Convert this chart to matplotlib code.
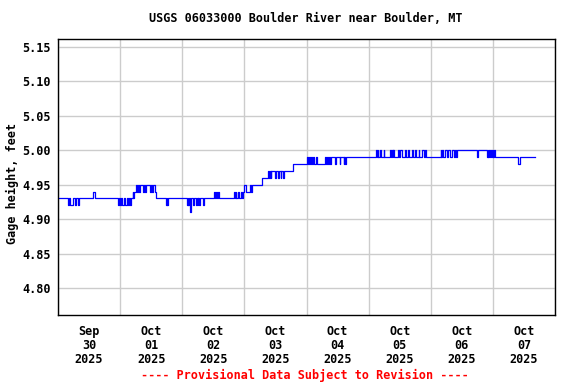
import matplotlib
matplotlib.use("Agg")
import matplotlib.pyplot as plt

# gage height readings, hours since Sep 30 2025 00:00 (step changes)
hours = [0.0, 3.9, 4.1, 4.6, 5.8, 6.6, 6.8, 7.7, 8.3, 13.7, 14.2,
         23.2, 23.6, 23.8, 24.3, 24.6, 25.5, 25.8, 26.7, 27.0, 27.4, 27.7,
         28.2, 28.8, 29.1, 29.4, 30.1, 30.4, 30.9, 31.2, 31.7, 32.9, 33.2,
         33.8, 34.1, 35.6, 35.9, 36.3, 36.6, 37.4, 38.0,
         41.6, 42.0, 42.2, 42.6, 49.7, 50.1, 50.3, 50.7, 50.9, 51.2, 52.2,
         52.5, 53.3, 53.6, 53.9, 54.2, 54.6, 54.9, 56.2, 56.5,
         60.4, 60.7, 60.9, 61.4, 61.8, 62.1, 68.1, 68.4, 68.6, 68.9, 69.6,
         69.9, 70.6, 71.0, 71.3, 72.0, 72.5, 74.2, 74.5, 75.0,
         78.7, 81.2, 81.5, 81.8, 82.1, 82.4, 83.9, 84.2, 85.0, 85.3, 86.0,
         86.3, 87.0, 87.3, 90.8, 96.1, 96.5, 96.9, 97.3, 97.7, 98.1, 98.5,
         98.8, 99.6, 99.9, 103.2, 103.5, 103.9, 104.2, 104.7, 105.0, 105.5,
         107.1, 107.4, 108.8, 109.1, 110.3, 110.6, 110.9, 111.2,
         122.9, 123.2, 123.5, 123.8, 124.5, 124.8, 125.8, 126.1, 128.3, 128.6,
         129.1, 129.4, 129.6, 129.9, 131.5, 131.8, 132.2, 132.9, 134.1, 134.4,
         135.4, 135.7, 136.7, 137.0, 138.0, 138.3, 139.3, 139.6, 140.6, 141.2,
         141.8, 142.1, 147.9, 148.1, 148.3, 148.9, 149.6, 150.2, 150.5, 151.5,
         152.2, 152.8, 153.4, 153.8, 154.1, 161.8, 162.1, 165.7, 166.0, 166.3,
         166.6, 167.0, 167.3, 167.6, 167.9, 168.2, 168.5, 168.9, 177.7, 178.3,
         184.4]
gage = [4.93, 4.92, 4.93, 4.92, 4.93, 4.92, 4.93, 4.92, 4.93, 4.94, 4.93,
        4.92, 4.93, 4.92, 4.93, 4.92, 4.93, 4.92, 4.93, 4.92, 4.93, 4.92,
        4.93, 4.94, 4.93, 4.94, 4.95, 4.94, 4.95, 4.94, 4.95, 4.94, 4.95,
        4.94, 4.95, 4.94, 4.95, 4.94, 4.95, 4.94, 4.93,
        4.92, 4.93, 4.92, 4.93, 4.92, 4.93, 4.92, 4.93, 4.91, 4.93, 4.92,
        4.93, 4.92, 4.93, 4.92, 4.93, 4.92, 4.93, 4.92, 4.93,
        4.94, 4.93, 4.94, 4.93, 4.94, 4.93, 4.94, 4.93, 4.94, 4.93, 4.94,
        4.93, 4.94, 4.93, 4.94, 4.95, 4.94, 4.95, 4.94, 4.95,
        4.96, 4.97, 4.96, 4.97, 4.96, 4.97, 4.96, 4.97, 4.96, 4.97, 4.96,
        4.97, 4.96, 4.97, 4.98, 4.99, 4.98, 4.99, 4.98, 4.99, 4.98, 4.99,
        4.98, 4.99, 4.98, 4.99, 4.98, 4.99, 4.98, 4.99, 4.98, 4.99,
        4.98, 4.99, 4.98, 4.99, 4.98, 4.99, 4.98, 4.99,
        5.00, 4.99, 5.00, 4.99, 5.00, 4.99, 5.00, 4.99, 5.00, 4.99,
        5.00, 4.99, 5.00, 4.99, 5.00, 4.99, 5.00, 4.99, 5.00, 4.99,
        5.00, 4.99, 5.00, 4.99, 5.00, 4.99, 5.00, 4.99, 5.00, 4.99,
        5.00, 4.99, 5.00, 4.99, 5.00, 4.99, 5.00, 4.99, 5.00, 4.99,
        5.00, 4.99, 5.00, 4.99, 5.00, 4.99, 5.00, 4.99, 5.00, 4.99,
        5.00, 4.99, 5.00, 4.99, 5.00, 4.99, 5.00, 4.99, 4.98, 4.99,
        4.99]

day_labels = ["Sep\n30\n2025", "Oct\n01\n2025", "Oct\n02\n2025", "Oct\n03\n2025",
              "Oct\n04\n2025", "Oct\n05\n2025", "Oct\n06\n2025", "Oct\n07\n2025"]
y_ticks = [4.80, 4.85, 4.90, 4.95, 5.00, 5.05, 5.10, 5.15]

font = {"family": "DejaVu Sans Mono", "weight": "bold", "size": 8.5}

fig = plt.figure(figsize=(5.76, 3.84), dpi=100)
ax = fig.add_axes([58 / 576, 1 - 315 / 384, (555 - 58) / 576, (315 - 39) / 384])
ax.step(hours, gage, where="post", color="#0000ff", lw=0.9)

ax.set_xlim(0, 192)
ax.set_ylim(4.7608, 5.1616)

ax.set_xticks([24 * i for i in range(9)])
ax.set_xticklabels([])
ax.set_xticks([12 + 24 * i for i in range(8)], minor=True)
ax.set_xticklabels(day_labels, minor=True, fontdict=font, linespacing=1.1)
ax.set_yticks(y_ticks)
ax.set_yticklabels(["%.2f" % v for v in y_ticks], fontdict=font)
ax.tick_params(which="both", length=0)
ax.tick_params(axis="y", pad=5)
ax.tick_params(axis="x", which="minor", pad=7)
ax.grid(True, which="major", color="#cccccc", lw=1)
ax.set_axisbelow(True)
for s in ax.spines.values():
    s.set_linewidth(1.0)
    s.set_color("black")

fig.text(306 / 576, 1 - 19 / 384, "USGS 06033000 Boulder River near Boulder, MT",
         ha="center", va="center", fontdict=font)
fig.text(12 / 576, 1 - 183 / 384, "Gage height, feet", rotation=90,
         ha="center", va="center", fontdict=font)
fig.text(305 / 576, 1 - 375 / 384, "---- Provisional Data Subject to Revision ----",
         ha="center", va="center", color="red", fontdict=font)

fig.savefig("out.png", dpi=100)
